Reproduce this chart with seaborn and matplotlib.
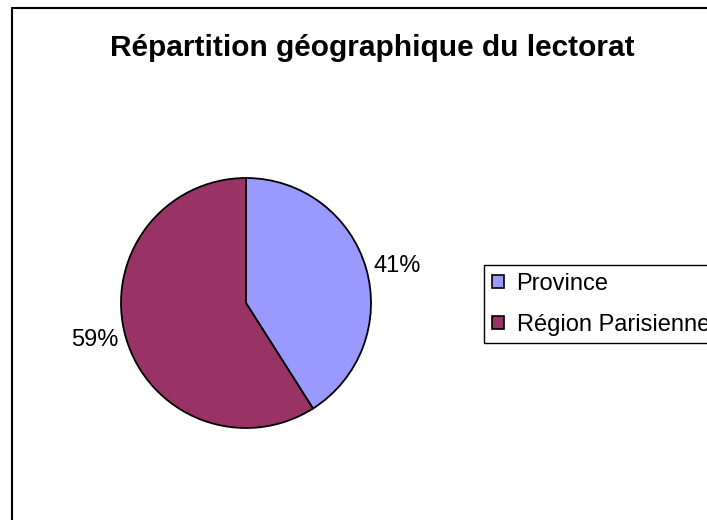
import matplotlib
matplotlib.use("Agg")
import matplotlib.pyplot as plt
import seaborn as sns
from matplotlib.patches import Rectangle, Patch

# data
categories = ["Province", "Région Parisienne"]
shares = [41, 59]
colors = ["#9999FF", "#993366"]
title = "Répartition géographique du lectorat"

sns.set_theme(style="white")
plt.rcParams['font.family'] = ['Liberation Sans', 'DejaVu Sans']

W, H = 707, 520
fig = plt.figure(figsize=(W / 100, H / 100), dpi=100)
fig.patch.set_facecolor("white")

# pie: centre (246, 303) px, radius 125 px
cx, cy, r = 246, 303, 125
ax = fig.add_axes([(cx - r) / W, 1 - (cy + r) / H, 2 * r / W, 2 * r / H])
wedges, texts = ax.pie(
    shares,
    colors=colors,
    startangle=90,
    counterclock=False,
    labels=[f"{v}%" for v in shares],
    labeldistance=1.06,
    wedgeprops=dict(edgecolor="black", linewidth=1.3),
    textprops=dict(fontsize=17, color="black"),
)
ax.set_xlim(-1, 1)
ax.set_ylim(-1, 1)
ax.set_aspect("equal")
ax.axis("off")

fig.text(372 / W, 1 - 48 / H, title, ha="center", va="center",
         fontsize=21.5, fontweight="bold", color="black")

handles = [Patch(facecolor=c, edgecolor="black", linewidth=1.2) for c in colors]
leg = fig.legend(
    handles, categories,
    loc="upper left", bbox_to_anchor=(484 / W, 1 - 265 / H),
    bbox_transform=fig.transFigure, borderaxespad=0,
    fontsize=17, labelcolor="black", frameon=True, fancybox=False,
    shadow=False, handlelength=0.5, handleheight=0.45, handletextpad=0.55,
    borderpad=0.33, labelspacing=0.8,
)
leg.get_frame().set_edgecolor("black")
leg.get_frame().set_linewidth(1.0)
leg.get_frame().set_alpha(1)

# chart border (runs off the right and bottom edges)
fig.add_artist(Rectangle((12 / W, -0.1), 1.2, 1 - 8 / H + 0.1,
                         transform=fig.transFigure, fill=False,
                         edgecolor="black", linewidth=1.5))

fig.savefig("out.png", dpi=100)
